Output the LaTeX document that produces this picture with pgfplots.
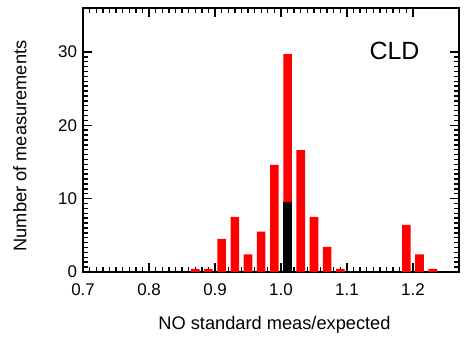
\documentclass[border=0pt]{standalone}
\usepackage{pgfplots}
\pgfplotsset{compat=1.18}
\usepackage{fontspec}
\setmainfont{Liberation Sans}
\pgfplotsset{
  myframe/.style={
    scale only axis, width=376bp, height=264bp,
    xmin=0.7, xmax=1.27, ymin=0, ymax=36,
    xtick={0.7,0.8,0.9,1.0,1.1,1.2}, minor x tick num=9,
    ytick={0,10,20,30}, minor y tick num=14,
    tick align=inside,
    line width=1.4pt,
    major tick length=9bp, minor tick length=5bp,
    axis line style={line width=1.6pt},
    every tick/.append style={black, line width=1.4pt},
    major tick style={black, line width=1.4pt},
    minor tick style={black, line width=1.4pt},
    xtick style={black, line width=1.4pt},
    ytick style={black, line width=1.4pt},
  }
}
\begin{document}
\begin{tikzpicture}
\begin{axis}[
  myframe,
  xtick pos=both, ytick pos=both,
  xticklabel pos=left, yticklabel pos=left,
  /pgf/number format/assume math mode=true,
  xticklabel style={/pgf/number format/fixed, /pgf/number format/fixed zerofill, /pgf/number format/precision=1, yshift=-8bp},
  yticklabel style={xshift=-2bp},
  tick label style={font=\fontsize{17}{20}\selectfont},
  xlabel={NO standard meas/expected},
  ylabel={Number of measurements},
  every axis x label/.style={at={(axis description cs:0.509,-0.2)}, anchor=center, font=\fontsize{18.3}{22}\selectfont},
  every axis y label/.style={at={(axis description cs:-0.168,0.477)}, rotate=90, anchor=center, font=\fontsize{18.3}{22}\selectfont},
  clip=false,
  extra description/.code={\path (axis description cs:-0.221,1.03) (axis description cs:1.021,-0.25);},
]
\addplot[ybar, bar width=0.013, bar shift=0pt, fill=red, draw=none] coordinates {
 (0.87,0.4) (0.89,0.4) (0.91,4.5) (0.93,7.5) (0.95,2.4) (0.97,5.5) (0.99,14.6)
 (1.01,29.7) (1.03,16.6) (1.05,7.5) (1.07,3.4) (1.09,0.4)
 (1.19,6.4) (1.21,2.4) (1.23,0.4)
};
\addplot[ybar, bar width=0.013, bar shift=0pt, fill=black, draw=none] coordinates {
 (1.01,9.6)
};
\node[font=\fontsize{25}{30}\selectfont] at (axis cs:1.172,30.1) {CLD};
\end{axis}
\end{tikzpicture}
\end{document}
